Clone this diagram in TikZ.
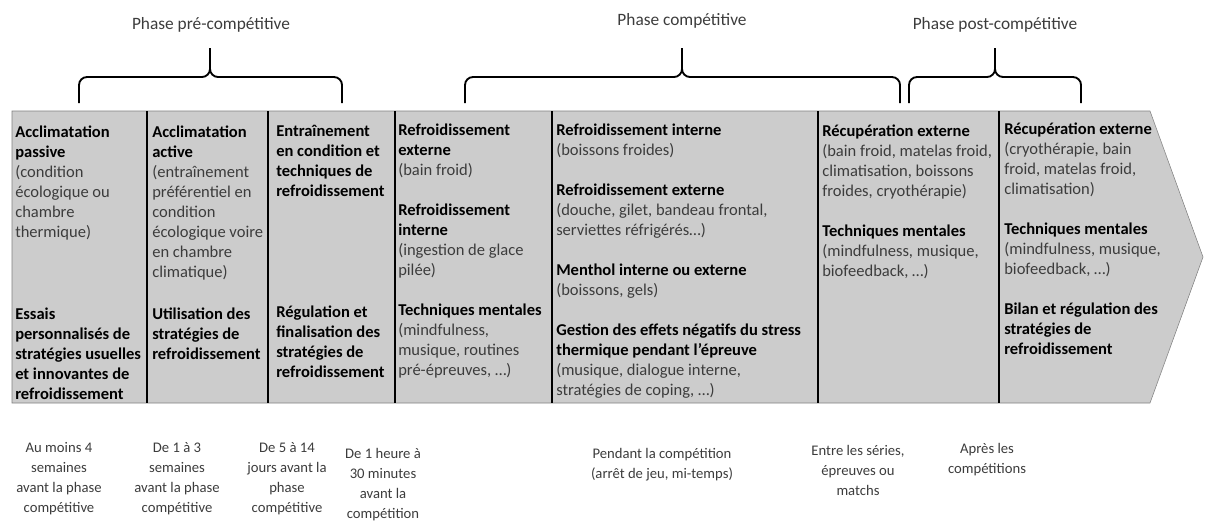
\documentclass[tikz,border=0pt]{standalone}
\usepackage{fontspec}
\setmainfont{Carlito}
\usepackage{tikz}
\definecolor{boxgray}{RGB}{204,204,204}
\definecolor{txtgray}{RGB}{60,60,60}
\tikzset{
	col/.style={anchor=north west, align=left, inner sep=0pt, font=\fontsize{12.4}{15}\selectfont},
	when/.style={anchor=north, align=center, inner sep=0pt, text=txtgray, font=\fontsize{11}{15}\selectfont},
	phase/.style={inner sep=0pt, text=txtgray, font=\fontsize{13}{15}\selectfont},
	phasebrace/.style={line width=1.4pt, rounded corners=6pt},
	sep/.style={line width=1.5pt}
}
\newcommand{\hdr}[1]{\textbf{#1}}
\newcommand{\dtl}[1]{{\color{txtgray}#1}}

\begin{document}
\begin{tikzpicture}[x=0.75pt, y=-0.75pt]
			\useasboundingbox (0,0) rectangle (1205,522);
			% arrow body
			\draw[draw=gray, fill=boxgray] (12,111) -- (1150,111) -- (1203,257) -- (1150,403) -- (12,403) -- cycle;
			\foreach \x in {147,268,395,552,818,999}
				\draw[sep] (\x,111) -- (\x,403);
			% braces
			\draw[phasebrace] (79,103) -- (79,77) -- (210,77) -- (210,48);
			\draw[phasebrace] (210,48) -- (210,77) -- (342,77) -- (342,103);
			\draw[phasebrace] (465,103) -- (465,77) -- (682,77) -- (682,48);
			\draw[phasebrace] (682,48) -- (682,77) -- (900,77) -- (900,103);
			\draw[phasebrace] (909,103) -- (909,77) -- (995,77) -- (995,48);
			\draw[phasebrace] (995,48) -- (995,77) -- (1081,77) -- (1081,103);
			\node[phase] (pre) 	at (211,25) 	{Phase pré-compétitive};
			\node[phase] (comp) at (682,21) 	{Phase compétitive};
			\node[phase] (post) at (995,25) 	{Phase post-compétitive};
			% columns
			\node[col] (A1) at (15,126) {\hdr{Acclimatation}\\ \hdr{passive}\\ \dtl{(condition}\\ \dtl{écologique ou}\\ \dtl{chambre}\\ \dtl{thermique)}};
			\node[col] (A2) at (15,308) {\hdr{Essais}\\ \hdr{personnalisés de}\\ \hdr{stratégies usuelles}\\ \hdr{et innovantes de}\\ \hdr{refroidissement}};
			\node[col] (B1) at (152,126) {\hdr{Acclimatation}\\ \hdr{active}\\ \dtl{(entraînement}\\ \dtl{préférentiel en}\\ \dtl{condition}\\ \dtl{écologique voire}\\ \dtl{en chambre}\\ \dtl{climatique)}};
			\node[col] (B2) at (152,308) {\hdr{Utilisation des}\\ \hdr{stratégies de}\\ \hdr{refroidissement}};
			\node[col] (C1) at (276,125) {\hdr{Entraînement}\\ \hdr{en condition et}\\ \hdr{techniques de}\\ \hdr{refroidissement}};
			\node[col] (C2) at (276,306) {\hdr{Régulation et}\\ \hdr{finalisation des}\\ \hdr{stratégies de}\\ \hdr{refroidissement}};
			\node[col] (D1) at (398,124) {\hdr{Refroidissement}\\ \hdr{externe}\\ \dtl{(bain froid)}\\[15pt] \hdr{Refroidissement}\\ \hdr{interne}\\ \dtl{(ingestion de glace}\\ \dtl{pilée)}\\[15pt] \hdr{Techniques mentales}\\ \dtl{(mindfulness,}\\ \dtl{musique, routines}\\ \dtl{pré-épreuves, …)}};
			\node[col] (E1) at (556,124) {\hdr{Refroidissement interne}\\ \dtl{(boissons froides)}\\[15pt] \hdr{Refroidissement externe}\\ \dtl{(douche, gilet, bandeau frontal,}\\ \dtl{serviettes réfrigérés…)}\\[15pt] \hdr{Menthol interne ou externe}\\ \dtl{(boissons, gels)}\\[15pt] \hdr{Gestion des effets négatifs du stress}\\ \hdr{thermique pendant l’épreuve}\\ \dtl{(musique, dialogue interne,}\\ \dtl{stratégies de coping, …)}};
			\node[col] (F1) at (822,125) {\hdr{Récupération externe}\\ \dtl{(bain froid, matelas froid,}\\ \dtl{climatisation, boissons}\\ \dtl{froides, cryothérapie)}\\[15pt] \hdr{Techniques mentales}\\ \dtl{(mindfulness, musique,}\\ \dtl{biofeedback, …)}};
			\node[col] (G1) at (1004,123) {\hdr{Récupération externe}\\ \dtl{(cryothérapie, bain}\\ \dtl{froid, matelas froid,}\\ \dtl{climatisation)}\\[15pt] \hdr{Techniques mentales}\\ \dtl{(mindfulness, musique,}\\ \dtl{biofeedback, …)}\\[15pt] \hdr{Bilan et régulation des}\\ \hdr{stratégies de}\\ \hdr{refroidissement}};
			% timing
			\node[when] (A') at (59,442) 	{Au moins 4\\ semaines\\ avant la phase\\ compétitive};
			\node[when] (B') at (177,442) 	{De 1 à 3\\ semaines\\ avant la phase\\ compétitive};
			\node[when] (C') at (287,442) 	{De 5 à 14\\ jours avant la\\ phase\\ compétitive};
			\node[when] (D') at (383,448) 	{De 1 heure à\\ 30 minutes\\ avant la\\ compétition};
			\node[when] (E') at (662,448) 	{Pendant la compétition\\ (arrêt de jeu, mi-temps)};
			\node[when] (F') at (858,445) 	{Entre les séries,\\ épreuves ou\\ matchs};
			\node[when] (G') at (987,443) 	{Après les\\ compétitions};
		\end{tikzpicture}
\end{document}
